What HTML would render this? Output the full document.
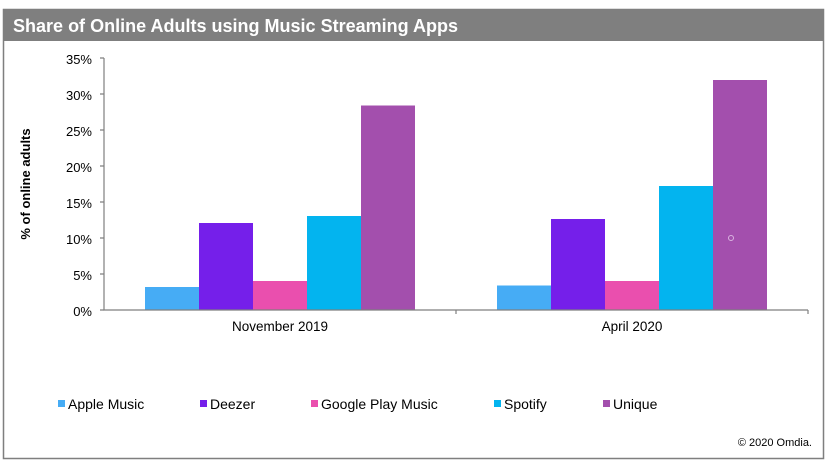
<!DOCTYPE html>
<html><head><meta charset="utf-8"><style>
body{margin:0;background:#fff;width:828px;height:466px;overflow:hidden}
svg{display:block;font-family:"Liberation Sans",Arial,sans-serif}
</style></head><body>
<svg width="828" height="466" xmlns="http://www.w3.org/2000/svg">
<rect x="3.5" y="9.5" width="820" height="449" fill="#fff" stroke="#7f7f7f" stroke-width="1.5"/>
<rect x="3" y="9" width="821" height="32" fill="#7f7f7f"/>
<text x="13" y="32" fill="#fff" font-size="18" font-weight="bold" textLength="445">Share of Online Adults using Music Streaming Apps</text>
<g fill="#000" font-size="13" text-anchor="end">
<text x="92" y="64">35%</text><text x="92" y="100">30%</text><text x="92" y="136">25%</text>
<text x="92" y="172">20%</text><text x="92" y="208">15%</text><text x="92" y="244">10%</text>
<text x="92" y="280">5%</text><text x="92" y="316">0%</text>
</g>
<text transform="translate(30,184) rotate(-90)" font-size="13" font-weight="bold" text-anchor="middle">% of online adults</text>
<g fill="#46acf5"><rect x="145" y="287" width="54" height="23"/><rect x="497" y="285.5" width="54" height="24.5"/></g>
<g fill="#751fea"><rect x="199" y="223" width="54" height="87"/><rect x="551" y="219" width="54" height="91"/></g>
<g fill="#ea4fae"><rect x="253" y="281" width="54" height="29"/><rect x="605" y="281" width="54" height="29"/></g>
<g fill="#03b4ef"><rect x="307" y="216" width="54" height="94"/><rect x="659" y="186" width="54" height="124"/></g>
<g fill="#a34fad"><rect x="361" y="105.5" width="54" height="204.5"/><rect x="713" y="80" width="54" height="230"/></g>
<circle cx="731" cy="238" r="2.5" fill="none" stroke="#d9b3e0" stroke-width="1"/>
<g stroke="#7f7f7f" stroke-width="1.2" fill="none">
<path d="M104 58V310H808"/>
<path d="M100 58h4M100 94h4M100 130h4M100 166h4M100 202h4M100 238h4M100 274h4M100 310h4"/>
<path d="M456 310v4M808 310v4"/>
</g>
<g font-size="13.5" fill="#000" text-anchor="middle">
<text x="280" y="331">November 2019</text><text x="632" y="331">April 2020</text>
</g>
<g font-size="14" fill="#000">
<rect x="58" y="400" width="7" height="7" fill="#46acf5"/><text x="68" y="409">Apple Music</text>
<rect x="200" y="400" width="7" height="7" fill="#751fea"/><text x="210" y="409">Deezer</text>
<rect x="311" y="400" width="7" height="7" fill="#ea4fae"/><text x="321" y="409">Google Play Music</text>
<rect x="494" y="400" width="7" height="7" fill="#03b4ef"/><text x="504" y="409">Spotify</text>
<rect x="603" y="400" width="7" height="7" fill="#a34fad"/><text x="613" y="409">Unique</text>
</g>
<text x="812" y="446" font-size="11" text-anchor="end">© 2020 Omdia.</text>
</svg>
</body></html>
